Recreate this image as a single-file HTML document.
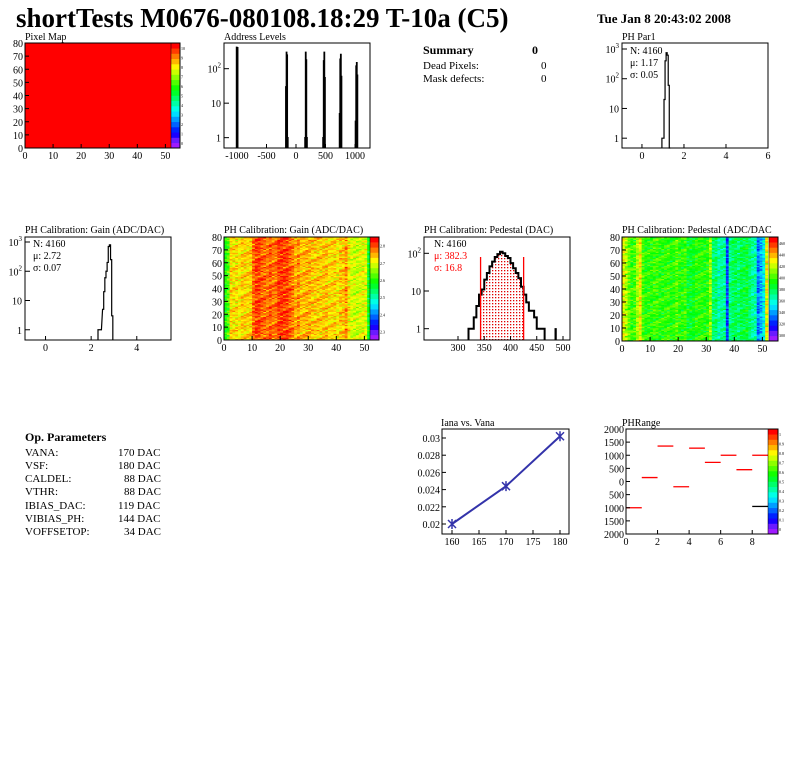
<!DOCTYPE html>
<html><head><meta charset="utf-8"><style>
body{margin:0;background:#fff;}
svg{display:block;font-family:"Liberation Serif",serif;}
</style></head><body>
<svg id="c" width="796" height="772" xmlns="http://www.w3.org/2000/svg">
<rect width="796" height="772" fill="#fff"/>
<text x="16" y="27" font-size="27" font-weight="bold">shortTests M0676-080108.18:29 T-10a (C5)</text>
<text x="597" y="23" font-size="13" font-weight="bold">Tue Jan  8 20:43:02 2008</text>
<g font-size="11">
<text x="423" y="54" font-weight="bold" font-size="12">Summary</text><text x="532" y="54" font-weight="bold" font-size="12">0</text>
<text x="423" y="69">Dead Pixels:</text><text x="541" y="69">0</text>
<text x="423" y="82">Mask defects:</text><text x="541" y="82">0</text>
</g>
<g font-size="11">
<text x="25" y="441" font-weight="bold" font-size="12">Op. Parameters</text>
<text x="25" y="456">VANA:</text><text x="118" y="456">170 DAC</text>
<text x="25" y="469">VSF:</text><text x="118" y="469">180 DAC</text>
<text x="25" y="482">CALDEL:</text><text x="124" y="482">88 DAC</text>
<text x="25" y="495">VTHR:</text><text x="124" y="495">88 DAC</text>
<text x="25" y="509">IBIAS_DAC:</text><text x="118" y="509">119 DAC</text>
<text x="25" y="522">VIBIAS_PH:</text><text x="118" y="522">144 DAC</text>
<text x="25" y="535">VOFFSETOP:</text><text x="124" y="535">34 DAC</text>
</g>
</svg>
<script>
// ---- data ----
const addrX=[-1010,-995,-175,-165,-155,-145,-135,150,160,170,180,190,455,465,475,485,495,735,745,755,765,775,1005,1015,1025,1035];
const addrY=[420,410,30,300,250,1,0,1,300,180,1,0,1,170,300,55,0,5,190,260,60,0,3,120,150,65];
const par1X=[0.95,1.0,1.05,1.1,1.15,1.2,1.25,1.3];
const par1Y=[1,1,20,400,750,620,60,0];
const gainX=[2.3,2.4,2.5,2.55,2.6,2.65,2.7,2.75,2.8,2.85,2.9];
const gainY=[1,1,5,20,60,100,200,700,800,250,3];
const pedX=[320,325,330,335,340,345,350,355,360,365,370,375,380,385,390,395,400,405,410,415,420,425,430,435,440,445,450,455,460];
const pedY=[1,1,2,4,8,11,20,30,45,60,80,95,110,100,85,75,55,40,30,22,13,8,5,3,3,2,1,1,1];
const ianaX=[160,170,180];
const ianaY=[0.0200,0.0244,0.0302];
const phrX=[0,1,2,3,4,5,6,7,8,8];
const phrY=[-1000,150,1350,-200,1270,730,1000,450,1000,-950];
const gainCols=[2.6,2.63,2.74,2.74,2.75,2.74,2.75,2.76,2.76,2.75,2.82,2.84,2.83,2.82,2.82,2.81,2.82,2.81,2.82,2.84,2.85,2.84,2.83,2.82,2.81,2.78,2.79,2.77,2.78,2.77,2.78,2.76,2.75,2.76,2.76,2.77,2.76,2.75,2.76,2.75,2.74,2.76,2.75,2.79,2.74,2.71,2.7,2.7,2.72,2.71,2.72,2.57];
const pedCols=[430,420,405,400,405,420,430,405,400,398,400,402,400,398,400,402,400,398,402,405,400,398,400,390,392,395,398,400,402,395,400,415,375,380,370,375,372,330,378,380,385,378,382,385,390,380,370,372,340,345,360,430];
const rowNoise=[0.01,-0.02,0.03,0,-0.01,0.02,-0.03,0.01,0.02,-0.01,0,0.03,-0.02,0.01,-0.01,0.02,0,-0.03,0.01,0.02];
const colNoise=[0,1,-1,2,0,-2,1,0,-1,2,1,-2,0,1,-1];
// ---- helpers ----
const S=document.getElementById('c');const NS='http://www.w3.org/2000/svg';
function mk(t,a,p){const e=document.createElementNS(NS,t);for(const k in a)e.setAttribute(k,a[k]);(p||S).appendChild(e);return e;}
function txt(x,y,s,sz,anch,col){const e=mk('text',{x:x,y:y,'font-size':sz||10,'text-anchor':anch||'middle',fill:col||'#000'});e.textContent=s;return e;}
function lin(a,b,c,d){return mk('line',{x1:a,y1:b,x2:c,y2:d,stroke:'#000','stroke-width':1});}
function pal(t){t=Math.max(0,Math.min(1,t));return 'hsl('+Math.round(275*(1-t))+',100%,'+(t<0.1?55:50)+'%)';}
function frame(name,x0,y0,x1,y1){const r=mk('rect',{x:x0,y:y0,width:x1-x0,height:y1-y0,fill:'none',stroke:'#000','stroke-width':1});}
function lin1(d0,d1,p0,p1){return v=>p0+(v-d0)*(p1-p0)/(d1-d0);}
function logS(d0,d1,p0,p1){return v=>p0+(Math.log10(v)-d0)*(p1-p0)/(d1-d0);}
function xticks(sx,vals,y,fmt){vals.forEach(v=>{const x=sx(v);lin(x,y,x,y-4);const t=txt(x,y+11,fmt?fmt(v):v,10);});}
function yticks(sy,vals,x,fmt){vals.forEach(v=>{const y=sy(v);lin(x,y,x+4,y);const t=txt(x-2,y+4,fmt?fmt(v):v,10,'end');});}
function logTicks(sy,x,decs){decs.forEach(d=>{const y=sy(Math.pow(10,d));lin(x,y,x+5,y);const t=mk('text',{x:x-3,y:y+4,'font-size':10,'text-anchor':'end'});t.textContent=d==0?'1':'10';if(d>1){const s=mk('tspan',{dy:-5,'font-size':7},t);s.textContent=d;}});}
function title(x,y,s){const t=txt(x,y,s,10,'start');}
// separate bars per bin
function bars(sx,sy,X,Y,yb,w){let d='';X.forEach((v,i)=>{if(Y[i]<=0)return;const x0=sx(v),x1=sx(v+w),y=sy(Y[i]);d+=`M${x0},${yb}V${y}H${x1}V${yb}`;});return mk('path',{d:d,fill:'none',stroke:'#000','stroke-width':1.2});}
// contiguous step outline
function step(sx,sy,X,Y,yb,w,fill){let d='M'+sx(X[0])+','+yb;X.forEach((v,i)=>{const y=Y[i]>0?sy(Y[i]):yb;d+=` L${sx(v)},${y} L${sx(v+w)},${y}`;});d+=` L${sx(X[X.length-1]+w)},${yb}`;return mk('path',{d:d,fill:fill||'none',stroke:'#000','stroke-width':1.2});}
function heat(name,x0,y0,x1,y1,cols,lo,hi,amp){const g=mk('g',{});const cw=(x1-x0)/52,ch=(y1-y0)/80;for(let c=0;c<52;c++)for(let r=0;r<80;r++){const v=cols[c]+amp*(rowNoise[(r*13+c*7+(r>>2)*3)%20]+0.01*colNoise[(r*5+c*11+(c>>1))%15]);mk('rect',{x:x0+c*cw,y:y1-(r+1)*ch,width:cw+0.3,height:ch+0.3,fill:pal((v-lo)/(hi-lo))},g);}}
function cbar(name,x0,y0,x1,y1,labels){const g=mk('g',{});const n=20;for(let i=0;i<n;i++)mk('rect',{x:x0,y:y1-(i+1)*(y1-y0)/n,width:x1-x0,height:(y1-y0)/n+0.3,fill:pal(i/(n-1))},g);mk('rect',{x:x0,y:y0,width:x1-x0,height:y1-y0,fill:'none',stroke:'#000','stroke-width':0.5},g);labels.forEach((l,i)=>{const y=y1-(i+0.5)*(y1-y0)/labels.length;txt(x1+1,y+2,l,4,'start');});}
// ---- Pixel map ----
title(25,40,'Pixel Map');
mk('rect',{x:25,y:43,width:146,height:105,fill:'#ff0000'});
cbar('pixel-map-colorbar',171,43,180,148,['0','1','2','3','4','5','6','7','8','9','10']);
frame('pixel-map-frame',25,43,180,148);
{const sx=lin1(0,52,25,171),sy=lin1(0,80,148,43);xticks(sx,[0,10,20,30,40,50],148);yticks(sy,[0,10,20,30,40,50,60,70,80],25);}
// ---- Address levels ----
title(224,40,'Address Levels');
{const sx=lin1(-1220,1254,224,370),sy=logS(-0.3,2.6,148,48);const h=bars(sx,sy,addrX,addrY,148,10);frame('address-frame',224,43,370,148);xticks(sx,[-1000,-500,0,500,1000],148);logTicks(sy,224,[0,1,2]);}
// ---- PH Par1 ----
title(622,40,'PH Par1');
{const sx=lin1(-0.95,6,622,768),sy=logS(-0.33,3,148,49);const h=step(sx,sy,par1X,par1Y,148,0.05);frame('par1-frame',622,43,768,148);xticks(sx,[0,2,4,6],148);logTicks(sy,622,[0,1,2,3]);
txt(630,54,'N: 4160',10,'start');txt(630,66,'μ: 1.17',10,'start');txt(630,78,'σ: 0.05',10,'start');}
// ---- Gain hist ----
title(25,233,'PH Calibration: Gain (ADC/DAC)');
{const sx=lin1(-0.9,5.5,25,171),sy=logS(-0.35,3,340,242);const h=step(sx,sy,gainX,gainY,340,0.05);frame('gain-hist-frame',25,237,171,340);xticks(sx,[0,2,4],340);logTicks(sy,25,[0,1,2,3]);
txt(33,247,'N: 4160',10,'start');txt(33,259,'μ: 2.72',10,'start');txt(33,271,'σ: 0.07',10,'start');}
// ---- Gain map ----
title(224,233,'PH Calibration: Gain (ADC/DAC)');
heat('gain-map-cells',224,237,370,340,gainCols,2.22,2.88,1.5);
cbar('gain-map-colorbar',370,237,379,340,['2.3','2.4','2.5','2.6','2.7','2.8']);
frame('gain-map-frame',224,237,379,340);
{const sx=lin1(0,52,224,370),sy=lin1(0,80,340,237);xticks(sx,[0,10,20,30,40,50],340);yticks(sy,[0,10,20,30,40,50,60,70,80],224);}
// ---- Pedestal hist ----
title(424,233,'PH Calibration: Pedestal (DAC)');
{const sx=lin1(300,500,458,563),sy=logS(-0.3,2.3,340,242);
const defs=mk('defs',{});const p=mk('pattern',{id:'dots',width:3,height:3,patternUnits:'userSpaceOnUse'},defs);mk('rect',{width:1.3,height:1.3,fill:'#e00000'},p);
const sel=pedX.map((v,i)=>v>=340&&v<425?i:-1).filter(i=>i>=0);
const hf=step(sx,sy,sel.map(i=>pedX[i]),sel.map(i=>pedY[i]),340,5,'url(#dots)');hf.setAttribute('stroke','none');
const h=step(sx,sy,pedX,pedY,340,5);h.setAttribute('stroke-width',2);
const sp=bars(sx,sy,[485],[1],340,2);
[343,425].forEach(v=>{const l=mk('line',{x1:sx(v),y1:257,x2:sx(v),y2:340,stroke:'#f00','stroke-width':1.3});});
frame('pedestal-frame',424,237,570,340);xticks(sx,[300,350,400,450,500],340);logTicks(sy,424,[0,1,2]);
txt(434,247,'N: 4160',10,'start');txt(434,259,'μ: 382.3',10,'start','#f00');txt(434,271,'σ: 16.8',10,'start','#f00');}
// ---- Pedestal map ----
title(622,233,'PH Calibration: Pedestal (ADC/DAC');
heat('pedestal-map-cells',622,237,768,341,pedCols,300,470,400);
cbar('pedestal-map-colorbar',769,237,778,341,['300','320','340','360','380','400','420','440','460']);
frame('pedestal-map-frame',622,237,778,341);
{const sx=lin1(0,52,622,768),sy=lin1(0,80,341,237);xticks(sx,[0,10,20,30,40,50],341);yticks(sy,[0,10,20,30,40,50,60,70,80],622);}
// ---- Iana vs Vana ----
title(441,426,'Iana vs. Vana');
{const sx=lin1(160,180,452,560),sy=lin1(0.02,0.03,524,438);frame('iana-frame',442,429,569,534);
let d='';ianaX.forEach((v,i)=>{d+=(i?'L':'M')+sx(v)+','+sy(ianaY[i]);});const pl=mk('path',{d:d,fill:'none',stroke:'#3333aa','stroke-width':2});
ianaX.forEach((v,i)=>{const x=sx(v),y=sy(ianaY[i]);const m=mk('path',{d:`M${x-4},${y-4}L${x+4},${y+4}M${x-4},${y+4}L${x+4},${y-4}M${x},${y-5}L${x},${y+5}`,stroke:'#3333aa','stroke-width':1.5});});
xticks(sx,[160,165,170,175,180],534);yticks(sy,[0.02,0.022,0.024,0.026,0.028,0.03],442);}
// ---- PHRange ----
title(622,426,'PHRange');
{const sx=lin1(0,9,626,768),sy=lin1(-2000,2000,534,429);
phrX.forEach((v,i)=>{const l=mk('line',{x1:sx(v),y1:sy(phrY[i]),x2:sx(v+1),y2:sy(phrY[i]),stroke:(i==9?'#000':'#f00'),'stroke-width':1.3});});
cbar('phrange-colorbar',768,429,778,534,['0','0.1','0.2','0.3','0.4','0.5','0.6','0.7','0.8','0.9','1']);
frame('phrange-frame',626,429,778,534);xticks(sx,[0,2,4,6,8],534);yticks(sy,[-2000,-1500,-1000,-500,0,500,1000,1500,2000],626,v=>String(Math.abs(v)));}
</script>
</body></html>
